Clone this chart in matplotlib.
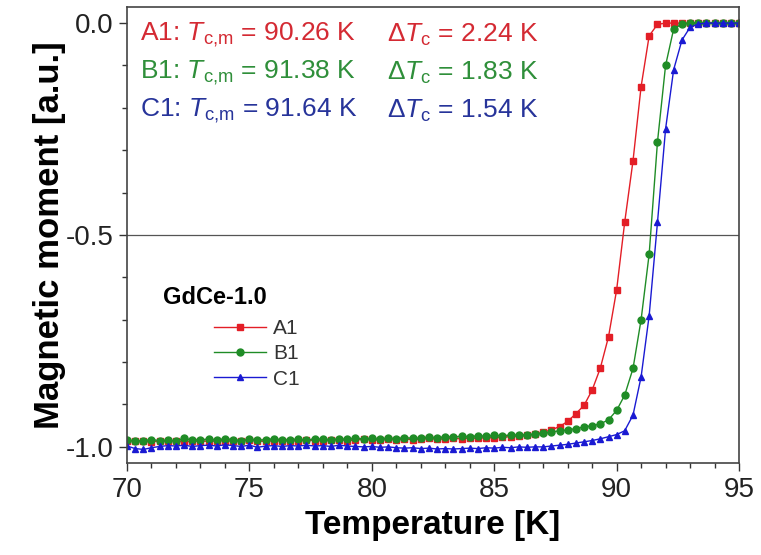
import matplotlib
matplotlib.use("Agg")
import matplotlib.pyplot as plt
from matplotlib.ticker import MultipleLocator

plt.rcParams["font.family"] = ["Liberation Sans", "DejaVu Sans"]
plt.rcParams["mathtext.fontset"] = "custom"
plt.rcParams["mathtext.rm"] = "Liberation Sans"
plt.rcParams["mathtext.it"] = "Liberation Sans:italic"
plt.rcParams["axes.unicode_minus"] = False

# Temperatur [K], felles for alle prøvene
temperatur = [
    70.0, 70.33, 70.67, 71.0, 71.33, 71.67, 72.0, 72.33, 72.67, 73.0,
    73.33, 73.67, 74.0, 74.33, 74.67, 75.0, 75.33, 75.67, 76.0, 76.33,
    76.67, 77.0, 77.33, 77.67, 78.0, 78.33, 78.67, 79.0, 79.33, 79.67,
    80.0, 80.33, 80.67, 81.0, 81.33, 81.67, 82.0, 82.33, 82.67, 83.0,
    83.33, 83.67, 84.0, 84.33, 84.67, 85.0, 85.33, 85.67, 86.0, 86.33,
    86.67, 87.0, 87.33, 87.67, 88.0, 88.33, 88.67, 89.0, 89.33, 89.67,
    90.0, 90.33, 90.67, 91.0, 91.33, 91.67, 92.0, 92.33, 92.67, 93.0,
    93.33, 93.67, 94.0, 94.33, 94.67, 95.0,
]

# Magnetisk moment [a.u.]
moment_a1 = [
    -0.986, -0.985, -0.987, -0.988, -0.986, -0.987, -0.985, -0.988, -0.987, -0.986,
    -0.987, -0.986, -0.985, -0.987, -0.986, -0.984, -0.986, -0.987, -0.985, -0.986,
    -0.985, -0.986, -0.984, -0.985, -0.986, -0.984, -0.983, -0.985, -0.984, -0.982,
    -0.983, -0.984, -0.982, -0.983, -0.981, -0.983, -0.982, -0.980, -0.982, -0.981,
    -0.980, -0.981, -0.979, -0.980, -0.978, -0.979, -0.977, -0.976, -0.975, -0.973,
    -0.970, -0.965, -0.960, -0.952, -0.940, -0.922, -0.902, -0.866, -0.815, -0.740,
    -0.630, -0.470, -0.325, -0.150, -0.030, -0.003, 0.0, 0.0, 0.0, 0.0,
    0.0, 0.0, 0.0, 0.0, 0.0, 0.0,
]
moment_b1 = [
    -0.984, -0.986, -0.985, -0.983, -0.985, -0.984, -0.986, -0.980, -0.984, -0.983,
    -0.982, -0.984, -0.981, -0.983, -0.985, -0.982, -0.984, -0.983, -0.981, -0.984,
    -0.983, -0.982, -0.984, -0.981, -0.982, -0.983, -0.981, -0.982, -0.980, -0.981,
    -0.980, -0.982, -0.979, -0.981, -0.978, -0.980, -0.979, -0.977, -0.979, -0.976,
    -0.977, -0.975, -0.976, -0.974, -0.975, -0.973, -0.974, -0.972, -0.972, -0.971,
    -0.970, -0.968, -0.965, -0.962, -0.960, -0.957, -0.953, -0.950, -0.946, -0.936,
    -0.914, -0.878, -0.815, -0.700, -0.545, -0.280, -0.100, -0.014, -0.002, 0.0,
    0.0, 0.0, 0.0, 0.0, 0.0, 0.0,
]
moment_c1 = [
    -0.998, -1.004, -1.006, -1.002, -0.999, -0.997, -0.998, -0.996, -0.999, -0.997,
    -0.996, -0.998, -0.995, -0.997, -0.999, -0.996, -1.001, -0.998, -0.997, -0.999,
    -0.997, -0.998, -0.996, -0.998, -0.997, -0.999, -0.996, -0.998, -0.999, -1.000,
    -0.999, -1.001, -1.000, -1.002, -1.003, -1.002, -1.004, -1.003, -1.005, -1.004,
    -1.005, -1.004, -1.003, -1.004, -1.002, -1.003, -1.001, -1.002, -1.000, -1.001,
    -1.000, -1.000, -0.998, -0.996, -0.994, -0.991, -0.988, -0.985, -0.981, -0.976,
    -0.971, -0.962, -0.925, -0.835, -0.690, -0.470, -0.250, -0.110, -0.040, -0.010,
    -0.002, 0.0, 0.0, 0.0, 0.0, 0.0,
]

prøver = ["A1", "B1", "C1"]
tc_m = ["90.26", "91.38", "91.64"]
delta_tc = ["2.24", "1.83", "1.54"]

farger = ["#e31e26", "#1f8c26", "#1a1ad2"]
tekstfarger = ["#d42a33", "#2f8f3a", "#27349a"]
markører = ["s", "o", "^"]

fig = plt.figure(figsize=(7.61, 5.55), dpi=100)
ax = fig.add_axes([0.1669, 0.1658, 0.8042, 0.8216])

linjer = []
for y, navn, farge, mrk in zip([moment_a1, moment_b1, moment_c1], prøver, farger, markører):
    l, = ax.plot(temperatur, y, color=farge, marker=mrk, markersize=5,
                 linewidth=1.0, label=navn)
    linjer.append(l)

ax.axhline(-0.5, color="#555555", linewidth=0.9, zorder=0)

ax.set_xlim(70, 95)
ax.set_ylim(-1.038, 0.038)
ax.xaxis.set_major_locator(MultipleLocator(5))
ax.xaxis.set_minor_locator(MultipleLocator(1))
ax.yaxis.set_major_locator(MultipleLocator(0.5))
ax.yaxis.set_minor_locator(MultipleLocator(0.1))
ax.tick_params(which="major", direction="out", length=6, width=1.0, labelsize=20,
               colors="#333333", labelcolor="#222222")
ax.tick_params(which="minor", direction="out", length=3.5, width=1.0, colors="#333333")
ax.tick_params(axis="x", pad=4)
for s in ax.spines.values():
    s.set_color("#444444")
    s.set_linewidth(1.2)

ax.set_xlabel("Temperature [K]", fontsize=24, fontweight="bold", labelpad=5)
ax.set_ylabel("Magnetic moment [a.u.]", fontsize=25, fontweight="bold", labelpad=0)

# Tekst med Tc-verdier
for i in range(3):
    ax.text(0.022, 0.938 - i * 0.083,
            prøver[i] + r": $\mathit{T}_{\mathrm{c}{,}\mathrm{m}}$ = " + tc_m[i] + " K",
            transform=ax.transAxes, fontsize=19, color=tekstfarger[i], va="center")
    ax.text(0.425, 0.938 - i * 0.083,
            r"$\Delta\mathit{T}_{\mathrm{c}}$ = " + delta_tc[i] + " K",
            transform=ax.transAxes, fontsize=19, color=tekstfarger[i], va="center")

ax.text(0.059, 0.364, "GdCe-1.0", transform=ax.transAxes, fontsize=17,
        fontweight="bold", va="center")
ax.legend(handles=linjer, loc="upper left", bbox_to_anchor=(0.128, 0.334),
          frameon=False, fontsize=15, handlelength=2.5, handletextpad=0.35,
          labelspacing=0.3, borderaxespad=0, labelcolor="#333333")

fig.savefig("out.png", dpi=100)
